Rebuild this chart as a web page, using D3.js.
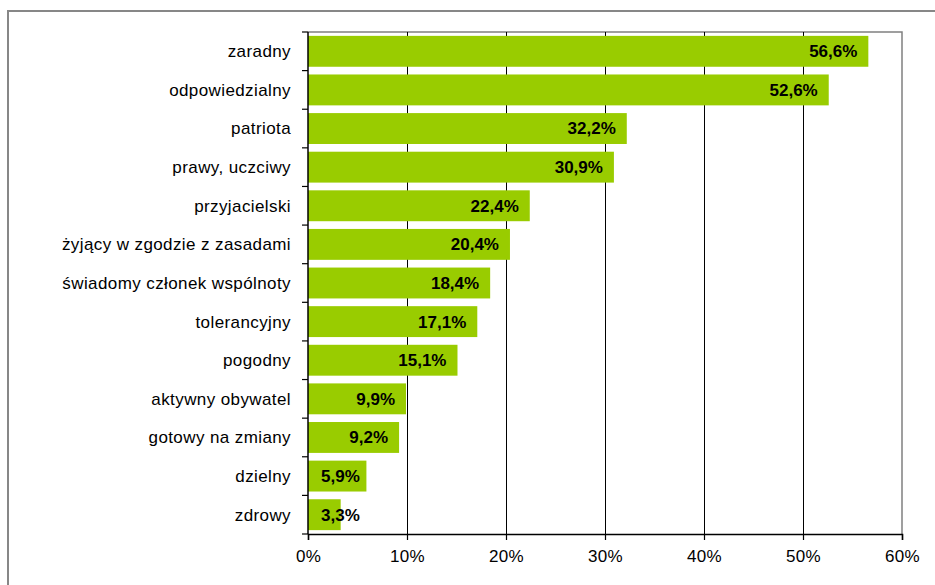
<!DOCTYPE html>
<html>
<head>
<meta charset="utf-8">
<script src="https://cdn.jsdelivr.net/npm/d3@7"></script>
<style>
  body { margin: 0; background: #fff; }
  svg { display: block; font-family: "Liberation Sans", Arial, sans-serif; }
</style>
</head>
<body>
<svg id="chart"></svg>
<script>
const categories = [
  "zaradny", "odpowiedzialny", "patriota", "prawy, uczciwy", "przyjacielski",
  "żyjący w zgodzie z zasadami", "świadomy członek wspólnoty", "tolerancyjny",
  "pogodny", "aktywny obywatel", "gotowy na zmiany", "dzielny", "zdrowy"
];
const values = [56.6, 52.6, 32.2, 30.9, 22.4, 20.4, 18.4, 17.1, 15.1, 9.9, 9.2, 5.9, 3.3];
const xTicks = [0, 10, 20, 30, 40, 50, 60];

const width = 935, height = 585;
const margin = {top: 32, right: 33, bottom: 51, left: 308};
const barColor = "#99cc00";

const svg = d3.select("#chart").attr("width", width).attr("height", height);

// Outer chart frame
svg.append("rect")
  .attr("x", 8).attr("y", 11)
  .attr("width", 960).attr("height", 620)
  .attr("fill", "none").attr("stroke", "#878787").attr("stroke-width", 2);

const x = d3.scaleLinear()
  .domain([0, 60])
  .range([margin.left, width - margin.right]);
const y = d3.scaleBand()
  .domain(categories)
  .range([margin.top, height - margin.bottom])
  .paddingInner(0.2)
  .paddingOuter(0.1);

// Plot border (top and right in gray)
svg.append("path")
  .attr("d", `M${x(0)},${margin.top}H${x(60)}V${height - margin.bottom}`)
  .attr("fill", "none").attr("stroke", "#808080").attr("stroke-width", 1.5);

// Vertical gridlines
svg.append("g")
  .selectAll("line")
  .data(xTicks.filter(d => d > 0 && d < 60))
  .join("line")
  .attr("x1", d => Math.round(x(d)) + 0.5).attr("x2", d => Math.round(x(d)) + 0.5)
  .attr("y1", margin.top).attr("y2", height - margin.bottom)
  .attr("stroke", "#000").attr("stroke-width", 1);

// Bars
svg.append("g")
  .selectAll("rect")
  .data(values)
  .join("rect")
  .attr("x", x(0))
  .attr("y", (d, i) => y(categories[i]))
  .attr("width", d => x(d) - x(0))
  .attr("height", y.bandwidth())
  .attr("fill", barColor);

// X axis
const xAxis = svg.append("g")
  .attr("transform", `translate(0,${height - margin.bottom})`)
  .call(d3.axisBottom(x).tickValues(xTicks).tickFormat(d => d + "%").tickSize(6).tickPadding(10));
xAxis.select(".domain").attr("stroke", "#000").attr("stroke-width", 1.5);
xAxis.selectAll(".tick line").attr("stroke", "#000").attr("stroke-width", 1.2);
xAxis.selectAll(".tick text")
  .attr("font-size", 17).attr("fill", "#000")
  .attr("letter-spacing", "0.3px")
  .attr("font-family", "Liberation Sans, Arial, sans-serif");

// Y axis: ticks sit between categories
const yAxis = svg.append("g").attr("transform", `translate(${x(0)},0)`);
yAxis.append("line")
  .attr("x1", 0).attr("x2", 0)
  .attr("y1", margin.top).attr("y2", height - margin.bottom)
  .attr("stroke", "#000").attr("stroke-width", 1.5);
const boundaries = d3.range(categories.length + 1).map(i => margin.top + i * (height - margin.top - margin.bottom) / categories.length);
yAxis.selectAll(".ytick")
  .data(boundaries)
  .join("line")
  .attr("class", "ytick")
  .attr("x1", -6).attr("x2", 0)
  .attr("y1", d => d).attr("y2", d => d)
  .attr("stroke", "#000").attr("stroke-width", 1.2);
yAxis.selectAll(".ylabel")
  .data(categories)
  .join("text")
  .attr("class", "ylabel")
  .attr("x", -17)
  .attr("y", d => y(d) + y.bandwidth() / 2)
  .attr("dy", "0.35em")
  .attr("text-anchor", "end")
  .attr("font-size", 17)
  .attr("letter-spacing", "0.4px")
  .attr("fill", "#000")
  .text(d => d);

// Value labels inside bar ends
const fmt = v => v.toFixed(1).replace(".", ",") + "%";
svg.append("g")
  .selectAll("text")
  .data(values)
  .join("text")
  .attr("y", (d, i) => y(categories[i]) + y.bandwidth() / 2)
  .attr("dy", "0.35em")
  .attr("text-anchor", "end")
  .attr("font-size", 17)
  .attr("font-weight", "bold")
  .attr("fill", "#000")
  .text(fmt)
  .each(function(d) {
    const w = this.getComputedTextLength();
    d3.select(this).attr("x", Math.max(x(d) - 11, x(0) + 13 + w));
  });
</script>
</body>
</html>
